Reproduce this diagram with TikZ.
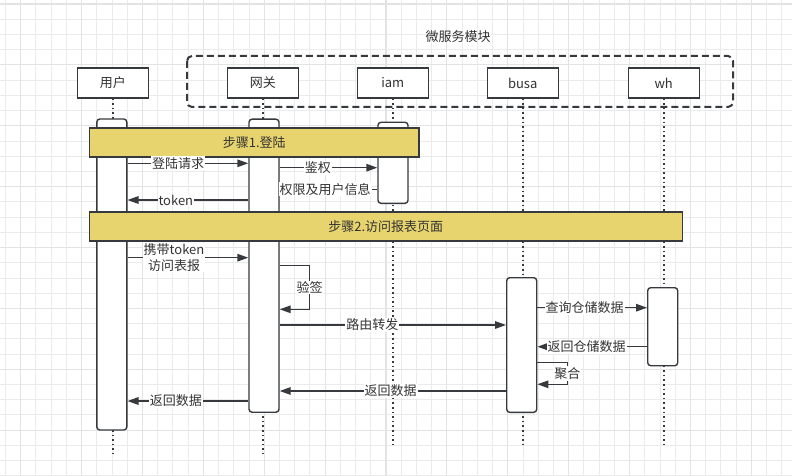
\documentclass[tikz,border=0pt]{standalone}
\usepackage{fontspec}
\setmainfont{Noto Sans CJK SC}
\usepackage{xcolor}
\usepackage{tikz}
\usetikzlibrary{arrows.meta, positioning, calc}
\definecolor{sqline}{HTML}{36393D}
\definecolor{sqtext}{HTML}{333333}
\definecolor{sqstep}{HTML}{E8D46E}
\definecolor{sqgrid}{HTML}{EBEBEB}
\definecolor{sqgridmajor}{HTML}{E3E3E3}

\begin{document}
\begin{tikzpicture}[
    x=1pt, y=-1pt,
    every node/.style={font=\fontsize{13}{15.5}\selectfont, text=sqtext},
    header/.style={rectangle, draw=sqline, fill=white, line width=1.4pt, minimum width=71pt, minimum height=30pt, inner sep=0pt},
    actbar/.style={rectangle, rounded corners=3pt, draw=sqline, fill=white, line width=1.4pt, minimum width=30pt, inner sep=0pt},
    stepbar/.style={rectangle, draw=sqline, fill=sqstep, line width=1.4pt, minimum height=29pt, inner sep=0pt},
    lifeline/.style={draw=sqline, line width=1.6pt, dash pattern=on 1.6pt off 3pt},
    msg/.style={draw=sqline, line width=1.4pt, -{Triangle[length=11pt, width=7.5pt]}},
    msglabel/.style={fill=white, inner sep=1pt},
    gridline/.style={draw=sqgrid, line width=0.9pt},
    gridmajor/.style={draw=sqgridmajor, line width=1.2pt}
]
\useasboundingbox (0,0) rectangle (792,476);
\fill[white] (0,0) rectangle (792,476);

% Background grid
\foreach \i in {0,...,51} \draw[gridline] ({5.5+15.22*\i},0) -- ++(0,476);
\foreach \i in {0,...,31} \draw[gridline] (0,{4+15.22*\i}) -- ++(792,0);
\foreach \i in {0,...,12} \draw[gridmajor] ({20.7+60.88*\i},0) -- ++(0,476);
\foreach \i in {0,...,7} \draw[gridmajor] (0,{4+60.88*\i}) -- ++(792,0);

% Microservice group
\node (msTitle) at (458,37) {微服务模块};
\draw[sqline, line width=2pt, dash pattern=on 7pt off 4pt, rounded corners=5pt] (187,56) rectangle (733,107);

% Participants
\node[header] (user) at (112.8,83) {用户};
\node[header] (gw) at (262.8,83) {网关};
\node[header] (iam) at (392.8,83) {iam};
\node[header] (busa) at (522.7,83) {busa};
\node[header] (wh) at (663.7,83) {wh};

% Lifelines
\draw[lifeline] (user.south) -- (user.south |- 0,453);
\draw[lifeline] (gw.south) -- (gw.south |- 0,453);
\draw[lifeline] (iam.south) -- (iam.south |- 0,445);
\draw[lifeline] (busa.south) -- (busa.south |- 0,445);
\draw[lifeline] (wh.south) -- (wh.south |- 0,445);

% Activation bars
\node[actbar, minimum height=311pt] (userAct) at (111.8,274.5) {};
\node[actbar, minimum height=293pt] (gwAct) at (264,265.7) {};
\node[actbar, minimum height=81pt] (iamAct) at (393,162.8) {};
\node[actbar, minimum height=134.6pt] (busaAct) at (521.7,345) {};
\node[actbar, minimum height=78pt] (whAct) at (662.7,326.7) {};

% Step bars
\node[stepbar, minimum width=329.7pt] (step1) at (254.2,142.4) {步骤1.登陆};
\node[stepbar, minimum width=593pt] (step2) at (385.8,226.4) {步骤2.访问报表页面};

% Step 1 messages
\draw[msg] (userAct.east |- 0,163.3) -- node[msglabel, pos=0.42] {登陆请求} (gwAct.west |- 0,163.3);
\draw[msg] (gwAct.east |- 0,167.7) -- node[msglabel, pos=0.39] {鉴权} (iamAct.west |- 0,167.7);
\draw[msg] (iamAct.west |- 0,189.3) -- node[msglabel, pos=0.535] {权限及用户信息} (gwAct.east |- 0,189.3);
\draw[msg] (gwAct.west |- 0,200) -- node[msglabel, pos=0.6] {token} (userAct.east |- 0,200);

% Step 2 messages
\draw[msg] (userAct.east |- 0,257.7) -- node[msglabel, pos=0.385, align=center] {携带token\\访问表报} (gwAct.west |- 0,257.7);
\draw[msg] (gwAct.east |- 0,265.7) -- ++(30,0) |- node[msglabel, pos=0.25] {验签} (gwAct.east |- 0,309.3);
\draw[msg] (gwAct.east |- 0,325) -- node[msglabel, pos=0.41] {路由转发} (busaAct.west |- 0,325);
\draw[msg] (busaAct.east |- 0,307.7) -- node[msglabel, pos=0.43] {查询仓储数据} (whAct.west |- 0,307.7);
\draw[msg] (whAct.west |- 0,346.7) -- node[msglabel, pos=0.55] {返回仓储数据} (busaAct.east |- 0,346.7);
\draw[msg] (busaAct.east |- 0,362.7) -- ++(30,0) |- node[msglabel, pos=0.25] {聚合} (busaAct.east |- 0,384.3);
\draw[msg] (busaAct.west |- 0,391) -- node[msglabel, pos=0.51] {返回数据} (gwAct.east |- 0,391);
\draw[msg] (gwAct.west |- 0,401) -- node[msglabel, pos=0.6] {返回数据} (userAct.east |- 0,401);

\end{tikzpicture}
\end{document}
